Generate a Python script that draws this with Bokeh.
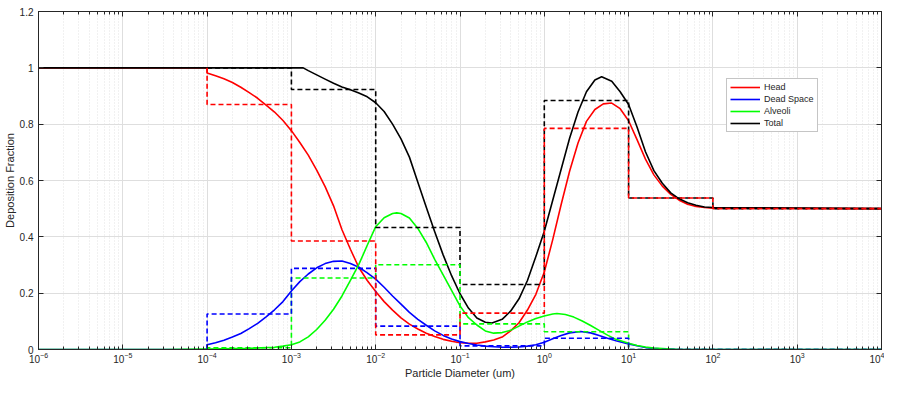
import numpy as np
from bokeh.plotting import figure
from bokeh.models import (Range1d, FixedTicker, LogAxis, LinearAxis, Legend, LegendItem,
                          CustomJSTickFormatter, LogTickFormatter)
from bokeh.embed import file_html
from bokeh.resources import INLINE

# ---------- data: log10(particle diameter, um) and deposition fraction ----------
head_logd = [-6.0, -4.0, -4.0, -3.9, -3.8, -3.7, -3.6, -3.5, -3.4, -3.3, -3.2, -3.1, -3.0,
             -2.9, -2.8, -2.7, -2.6, -2.5, -2.4, -2.3, -2.2, -2.1, -2.0, -1.9, -1.8, -1.7,
             -1.6, -1.5, -1.4, -1.3, -1.2, -1.1, -1.0, -0.9, -0.8, -0.7, -0.6, -0.5, -0.4,
             -0.3, -0.2, -0.1, 0.0, 0.1, 0.2, 0.3, 0.4, 0.5, 0.6, 0.7, 0.8, 0.9, 1.0, 1.1,
             1.2, 1.3, 1.4, 1.5, 1.6, 1.7, 1.8, 1.9, 2.0, 4.0]
head_frac = [1.0, 1.0, 0.982, 0.972, 0.961, 0.948, 0.931, 0.912, 0.892, 0.868, 0.843, 0.813,
             0.777, 0.735, 0.690, 0.637, 0.578, 0.510, 0.425, 0.356, 0.291, 0.245, 0.206,
             0.170, 0.140, 0.112, 0.090, 0.073, 0.058, 0.046, 0.036, 0.029, 0.024, 0.022,
             0.022, 0.027, 0.034, 0.044, 0.066, 0.095, 0.140, 0.196, 0.275, 0.390, 0.515,
             0.633, 0.733, 0.810, 0.852, 0.872, 0.875, 0.855, 0.812, 0.745, 0.676, 0.620,
             0.580, 0.551, 0.530, 0.516, 0.508, 0.504, 0.502, 0.500]

dead_logd = [-6.0, -4.0, -4.0, -3.9, -3.8, -3.7, -3.6, -3.5, -3.4, -3.3, -3.2, -3.1, -3.0,
             -2.9, -2.8, -2.7, -2.6, -2.5, -2.4, -2.3, -2.2, -2.1, -2.0, -1.9, -1.8, -1.7,
             -1.6, -1.5, -1.4, -1.3, -1.2, -1.1, -1.0, -0.9, -0.8, -0.7, -0.6, -0.5, -0.4,
             -0.3, -0.2, -0.1, 0.0, 0.1, 0.2, 0.3, 0.43, 0.55, 0.65, 0.75, 0.85, 1.0, 1.1,
             1.2, 1.3, 1.4, 1.6, 4.0]
dead_frac = [0.0, 0.0, 0.017, 0.024, 0.033, 0.044, 0.057, 0.074, 0.093, 0.116, 0.141, 0.170,
             0.208, 0.241, 0.268, 0.290, 0.305, 0.313, 0.314, 0.305, 0.292, 0.272, 0.250,
             0.221, 0.190, 0.161, 0.132, 0.107, 0.086, 0.066, 0.050, 0.037, 0.028, 0.021,
             0.016, 0.012, 0.010, 0.008, 0.008, 0.009, 0.012, 0.017, 0.026, 0.038, 0.050,
             0.059, 0.064, 0.059, 0.050, 0.040, 0.031, 0.020, 0.013, 0.007, 0.004, 0.002,
             0.0, 0.0]

alv_logd = [-6.0, -4.5, -4.0, -3.5, -3.2, -3.1, -3.0, -2.9, -2.8, -2.7, -2.6, -2.5, -2.4,
            -2.3, -2.2, -2.1, -2.0, -1.9, -1.8, -1.75, -1.7, -1.6, -1.5, -1.4, -1.3, -1.2,
            -1.1, -1.0, -0.9, -0.8, -0.7, -0.6, -0.5, -0.4, -0.3, -0.2, -0.1, 0.0, 0.1, 0.15,
            0.25, 0.35, 0.45, 0.55, 0.65, 0.75, 0.85, 1.0, 1.1, 1.2, 1.3, 1.4, 1.6, 4.0]
alv_frac = [0.0, 0.0, 0.002, 0.004, 0.008, 0.012, 0.017, 0.027, 0.045, 0.071, 0.104, 0.143,
            0.190, 0.245, 0.302, 0.370, 0.436, 0.468, 0.483, 0.485, 0.483, 0.467, 0.430,
            0.380, 0.320, 0.265, 0.210, 0.155, 0.113, 0.087, 0.066, 0.058, 0.060, 0.068,
            0.083, 0.098, 0.110, 0.119, 0.126, 0.128, 0.124, 0.115, 0.101, 0.085, 0.068,
            0.051, 0.036, 0.022, 0.014, 0.009, 0.005, 0.003, 0.0, 0.0]

total_logd = [-6.0, -2.86, -2.8, -2.7, -2.6, -2.5, -2.4, -2.3, -2.2, -2.1, -2.0, -1.9, -1.8,
              -1.7, -1.6, -1.5, -1.4, -1.3, -1.2, -1.1, -1.0, -0.9, -0.8, -0.7, -0.62, -0.5,
              -0.4, -0.3, -0.2, -0.1, 0.0, 0.1, 0.2, 0.3, 0.4, 0.5, 0.6, 0.68, 0.8, 0.9, 1.0,
              1.1, 1.2, 1.3, 1.4, 1.5, 1.6, 1.7, 1.8, 1.9, 2.0, 4.0]
total_frac = [1.0, 1.0, 0.990, 0.975, 0.960, 0.945, 0.932, 0.922, 0.911, 0.897, 0.876, 0.845,
              0.800, 0.748, 0.683, 0.594, 0.505, 0.418, 0.336, 0.262, 0.198, 0.147, 0.112,
              0.097, 0.094, 0.107, 0.136, 0.180, 0.245, 0.330, 0.420, 0.530, 0.640, 0.750,
              0.843, 0.915, 0.957, 0.968, 0.952, 0.915, 0.870, 0.790, 0.702, 0.635, 0.590,
              0.556, 0.535, 0.521, 0.512, 0.506, 0.504, 0.500]

# binned (dashed step) values
bin_edges = [1e-4, 1e-3, 1e-2, 1e-1, 1e0, 1e1, 1e2, 1e4]
head_bins = [0.870, 0.385, 0.052, 0.129, 0.785, 0.538, 0.500]
dead_bins = [0.126, 0.288, 0.083, 0.013, 0.040, 0.0, 0.0]
alv_bins = [0.006, 0.254, 0.301, 0.091, 0.063, 0.0, 0.0]
total_bins = [1.0, 0.923, 0.433, 0.231, 0.884, 0.538, 0.500]
bins_start = {"head": 1.0, "dead": 0.0, "alv": 0.0, "total": 1.0}

x_ticks = [1e-6, 1e-5, 1e-4, 1e-3, 1e-2, 1e-1, 1e0, 1e1, 1e2, 1e3, 1e4]
y_ticks = [0, 0.2, 0.4, 0.6, 0.8, 1.0, 1.2]

series_names = ["Head", "Dead Space", "Alveoli", "Total"]
series_colors = ["#ff0000", "#0000ff", "#00ff00", "#000000"]

FONT = "Liberation Sans"
DARK = "#262626"

p = figure(width=884, height=381, x_axis_type="log",
           x_range=Range1d(1e-6, 1e4), y_range=Range1d(0, 1.2),
           output_backend="svg", toolbar_location=None,
           min_border_left=34, min_border_right=1, min_border_top=11, min_border_bottom=4)
p.outline_line_color = DARK
p.outline_line_width = 1

minor = [k * 10.0 ** e for e in range(-6, 4) for k in range(2, 10)]
xt = FixedTicker(ticks=x_ticks, minor_ticks=minor)
yt = FixedTicker(ticks=y_ticks, minor_ticks=[])
yfmt = CustomJSTickFormatter(code="return tick.toFixed(1).replace(/\\.0$/, '');")
blank = CustomJSTickFormatter(code="return ' ';")

ax = p.xaxis[0]
ax.ticker = xt
ax.formatter = LogTickFormatter()
ax.axis_label = "Particle Diameter (um)"
ay = p.yaxis[0]
ay.ticker = yt
ay.formatter = yfmt
ay.axis_label = "Deposition Fraction"

for a in (ax, ay):
    a.major_tick_in = 5
    a.major_tick_out = 0
    a.minor_tick_in = 3
    a.minor_tick_out = 0
    a.axis_line_color = DARK
    a.major_tick_line_color = DARK
    a.minor_tick_line_color = DARK
    a.major_label_text_font = FONT
    a.major_label_text_font_size = "10px"
    a.major_label_text_color = DARK
    a.axis_label_text_font = FONT
    a.axis_label_text_font_size = "11px"
    a.axis_label_text_font_style = "normal"
    a.axis_label_text_color = DARK
ax.major_label_standoff = 2
ax.axis_label_standoff = 1
ay.major_label_standoff = 5
ay.axis_label_standoff = 1

top = LogAxis(ticker=xt, formatter=blank, major_tick_in=5, major_tick_out=0, minor_tick_in=3,
              minor_tick_out=0, major_label_text_font_size="1px", major_label_standoff=0,
              axis_line_color=DARK, major_tick_line_color=DARK, minor_tick_line_color=DARK)
right = LinearAxis(ticker=yt, formatter=blank, major_tick_in=5, major_tick_out=0, minor_tick_in=0,
                   minor_tick_out=0, major_label_text_font_size="1px", major_label_standoff=0,
                   axis_line_color=DARK, major_tick_line_color=DARK)
p.add_layout(top, "above")
p.add_layout(right, "right")

p.xgrid.ticker = xt
p.ygrid.ticker = yt
p.xgrid.grid_line_color = "#dedede"
p.ygrid.grid_line_color = "#dedede"
p.xgrid.minor_grid_line_color = "#e2e2e2"
p.xgrid.minor_grid_line_dash = "1 2"
p.ygrid.minor_grid_line_color = None

curves = [(head_logd, head_frac), (dead_logd, dead_frac), (alv_logd, alv_frac), (total_logd, total_frac)]
renderers = []
for (ld, fr), col in zip(curves, series_colors):
    r = p.line(10.0 ** np.array(ld), fr, line_color=col, line_width=1.6, line_join="round")
    renderers.append(r)


def steps(values, start):
    xs = [bin_edges[0]]
    ys = [start]
    for i, v in enumerate(values):
        xs += [bin_edges[i], bin_edges[i + 1]]
        ys += [v, v]
    return xs, ys


bins = [("total", total_bins, "#000000"), ("alv", alv_bins, "#00ff00"),
        ("dead", dead_bins, "#0000ff"), ("head", head_bins, "#ff0000")]
for key, vals, col in bins:
    xs, ys = steps(vals, bins_start[key])
    p.line(xs, ys, line_color=col, line_width=1.6, line_dash="5 3")

legend = Legend(items=[LegendItem(label=n, renderers=[r]) for n, r in zip(series_names, renderers)],
                location=(688, 217), label_text_font=FONT, label_text_font_size="9px",
                label_text_color=DARK, glyph_width=30, glyph_height=10, label_height=10,
                spacing=2, padding=3, margin=0, border_line_color="#8c8c8c",
                background_fill_color="white", background_fill_alpha=1.0,
                label_standoff=4)
p.add_layout(legend)

open("out.html", "w").write(file_html(p, INLINE))
